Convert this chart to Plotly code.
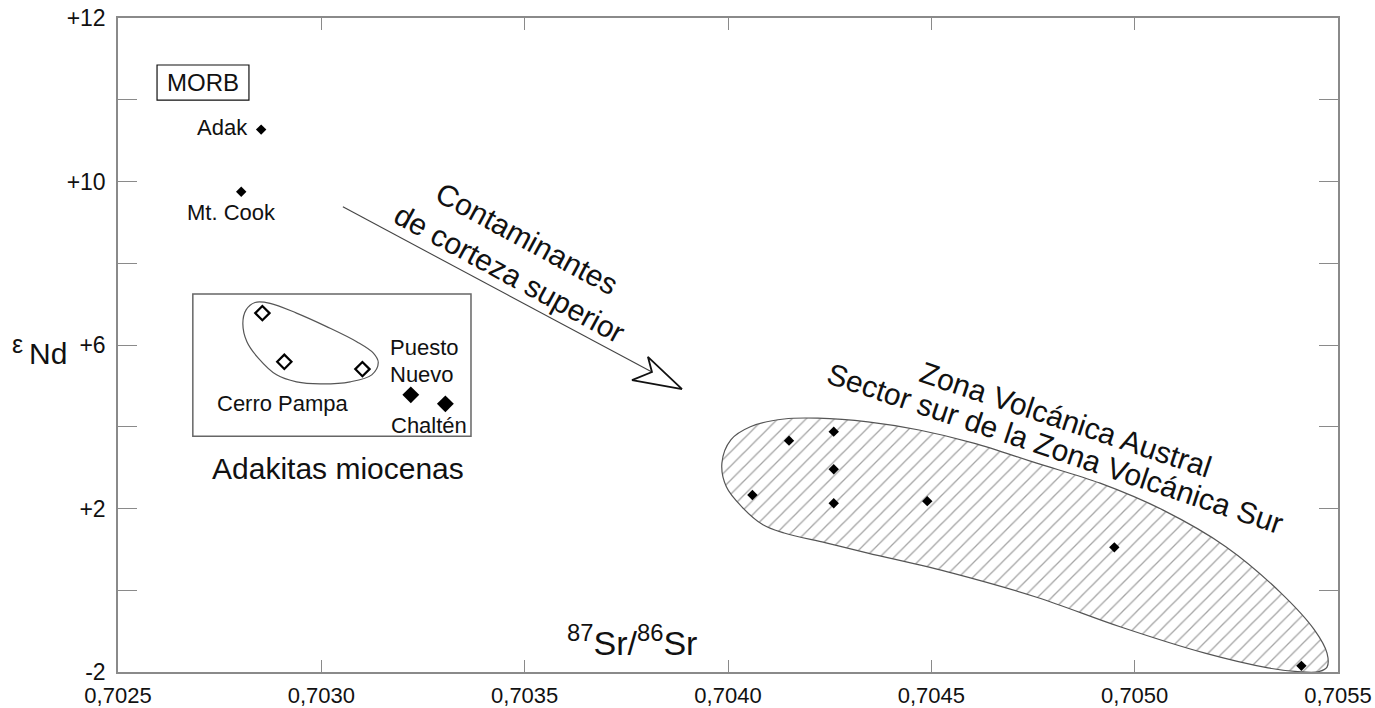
import plotly.graph_objects as go

# ---------------- data ----------------
x_ticks = [0.7025, 0.7030, 0.7035, 0.7040, 0.7045, 0.7050, 0.7055]
x_tick_text = ["0,7025", "0,7030", "0,7035", "0,7040", "0,7045", "0,7050", "0,7055"]
y_ticks = [-2, 2, 6, 10, 14]
y_tick_text = ["-2", "+2", "+6", "+10", "+12"]
y_minor_ticks = [0, 4, 8, 12]

morb_x = [0.702852, 0.702803]          # Adak, Mt. Cook
morb_y = [11.27, 9.75]

cerro_pampa_x = [0.702855, 0.702909, 0.703101]
cerro_pampa_y = [6.78, 5.59, 5.41]

pn_chalten_x = [0.703220, 0.703305]    # Puesto Nuevo, Chaltén
pn_chalten_y = [4.78, 4.56]

zva_x = [0.70415, 0.70426, 0.70426, 0.70406, 0.70426, 0.70449, 0.70495, 0.70541]
zva_y = [3.66, 3.88, 2.96, 2.33, 2.13, 2.18, 1.05, -1.85]

# outline of the ZVA field
zva_field_x = [0.703985, 0.704007, 0.704055, 0.704138, 0.704221, 0.704344, 0.704470,
               0.704604, 0.704759, 0.704915, 0.705070, 0.705225, 0.705360, 0.705442,
               0.705473, 0.705473, 0.705453, 0.705401, 0.705328, 0.705173, 0.704966,
               0.704759, 0.704552, 0.704344, 0.704241, 0.704138, 0.704086, 0.704034,
               0.703996, 0.703985]
zva_field_y = [3.11, 3.68, 4.00, 4.19, 4.21, 4.12, 3.92, 3.60, 3.11, 2.62, 1.96, 1.06,
               -0.07, -0.97, -1.54, -1.88, -1.99, -1.99, -1.90, -1.54, -0.90, -0.17,
               0.42, 0.91, 1.16, 1.40, 1.60, 2.04, 2.53, 3.11]

# outline of the Cerro Pampa group
cp_field_x = [0.702807, 0.702815, 0.702837, 0.702874, 0.702939, 0.703013, 0.703087,
              0.703128, 0.703140, 0.703124, 0.703071, 0.702997, 0.702939, 0.702890,
              0.702845, 0.702817, 0.702807]
cp_field_y = [6.53, 6.86, 7.04, 7.02, 6.78, 6.45, 6.08, 5.80, 5.57, 5.27, 5.10, 5.05,
              5.10, 5.27, 5.68, 6.08, 6.53]

# crustal-contamination arrow: shaft start, head tip, barbs and notch
arrow_shaft_x = [0.703053, 0.703813]
arrow_shaft_y = [9.38, 5.34]
arrow_head_x = [0.703887, 0.703803, 0.703813, 0.703764, 0.703887]
arrow_head_y = [4.92, 5.71, 5.34, 5.14, 4.92]

# inset box (Adakitas miocenas) and MORB box
inset_box = dict(x0=0.702684, x1=0.703368, y0=3.77, y1=7.25)
morb_box = dict(x0=0.702596, x1=0.702822, y0=11.99, y1=12.85)

FONT = "Liberation Sans, Arial, Helvetica, sans-serif"
AXIS_GREY = "#8a8a8a"

fig = go.Figure()

# hatched ZVA field
fig.add_trace(go.Scatter(
    x=zva_field_x, y=zva_field_y, mode="lines",
    line=dict(color="#555555", width=1.2, shape="spline", smoothing=1.0),
    fill="toself", fillcolor="white",
    fillpattern=dict(shape="/", fgcolor="#4a4a4a", bgcolor="white", size=10, solidity=0.13),
    hoverinfo="skip", showlegend=False))

# Cerro Pampa outline
fig.add_trace(go.Scatter(
    x=cp_field_x, y=cp_field_y, mode="lines",
    line=dict(color="#555555", width=1.2, shape="spline", smoothing=1.0),
    hoverinfo="skip", showlegend=False))

# arrow
fig.add_trace(go.Scatter(
    x=arrow_shaft_x, y=arrow_shaft_y, mode="lines",
    line=dict(color="#444444", width=1.1), hoverinfo="skip", showlegend=False))
fig.add_trace(go.Scatter(
    x=arrow_head_x, y=arrow_head_y, mode="lines",
    line=dict(color="#111111", width=1.8), fill="toself", fillcolor="white",
    hoverinfo="skip", showlegend=False))

# points
fig.add_trace(go.Scatter(
    x=morb_x, y=morb_y, mode="markers",
    marker=dict(symbol="diamond", size=8, color="black"), showlegend=False))
fig.add_trace(go.Scatter(
    x=cerro_pampa_x, y=cerro_pampa_y, mode="markers",
    marker=dict(symbol="diamond-open", size=11, color="black", line=dict(width=2.2)),
    showlegend=False))
fig.add_trace(go.Scatter(
    x=pn_chalten_x, y=pn_chalten_y, mode="markers",
    marker=dict(symbol="diamond", size=13, color="black"), showlegend=False))
fig.add_trace(go.Scatter(
    x=zva_x, y=zva_y, mode="markers",
    marker=dict(symbol="diamond", size=8, color="black"), showlegend=False))

# boxes
fig.add_shape(type="rect", xref="x", yref="y", line=dict(color="#666666", width=1.5),
              **inset_box)
fig.add_shape(type="rect", xref="x", yref="y", line=dict(color="#111111", width=1.2),
              **morb_box)


def label(text, x, y, size=22, xanchor="center", angle=0, yanchor="middle"):
    fig.add_annotation(text=text, x=x, y=y, xref="x", yref="y", showarrow=False,
                       xanchor=xanchor, yanchor=yanchor, textangle=angle,
                       font=dict(family=FONT, size=size, color="#111111"))


label("MORB", 0.702709, 12.43, size=24)
label("Adak", 0.702825, 11.31, xanchor="right")
label("Mt. Cook", 0.702780, 9.25)
label("Cerro Pampa", 0.702906, 4.58)
label("Puesto", 0.703164, 5.93, xanchor="left")
label("Nuevo", 0.703164, 5.29, xanchor="left")
label("Chaltén", 0.703166, 4.04, xanchor="left")
label("Adakitas miocenas", 0.703041, 2.99, size=30)
label("Contaminantes", 0.703505, 8.60, size=30, angle=28.5)
label("de corteza superior", 0.703462, 7.74, size=30, angle=28.5)
label("Zona Volcánica Austral", 0.704830, 4.17, size=30, angle=18.5)
label("Sector sur de la Zona Volcánica Sur", 0.704805, 3.48, size=30, angle=18.5)
label("<sup>87</sup>Sr/<sup>86</sup>Sr", 0.703765, -1.80, size=34, yanchor="bottom")

# y-axis title  (epsilon raised, then Nd)
fig.add_annotation(text="ε", x=-0.082, y=0.502, xref="paper", yref="paper",
                   showarrow=False, xanchor="center", yanchor="middle",
                   font=dict(family=FONT, size=25, color="#111111"))
fig.add_annotation(text="Nd", x=-0.075, y=0.487, xref="paper", yref="paper",
                   showarrow=False, xanchor="left", yanchor="middle",
                   font=dict(family=FONT, size=30, color="#111111"))

fig.update_xaxes(range=[0.7025, 0.7055], tickvals=x_ticks, ticktext=x_tick_text,
                 showline=True, linecolor=AXIS_GREY, linewidth=1.5, mirror="ticks",
                 ticks="inside", ticklen=12, tickwidth=1.3, tickcolor=AXIS_GREY,
                 showgrid=False, zeroline=False, ticklabelstandoff=3, automargin=False,
                 tickfont=dict(family=FONT, size=22, color="#111111"))
fig.update_yaxes(range=[-2, 14], tickvals=y_ticks, ticktext=y_tick_text,
                 showline=True, linecolor=AXIS_GREY, linewidth=1.5, mirror="ticks",
                 ticks="inside", ticklen=19, tickwidth=1.3, tickcolor=AXIS_GREY,
                 minor=dict(tickvals=y_minor_ticks, ticks="inside", ticklen=19,
                            tickwidth=1.3, tickcolor=AXIS_GREY, showgrid=False),
                 showgrid=False, zeroline=False, ticklabelstandoff=6, automargin=False,
                 tickfont=dict(family=FONT, size=23, color="#111111"))

fig.update_layout(width=1375, height=708, plot_bgcolor="white", paper_bgcolor="white",
                  margin=dict(l=118, r=37, t=18, b=36), showlegend=False)

# remove the browser's default page margin so the figure sits at the window's corner
fig.write_html("out.html", config={"displayModeBar": False},
               post_script="document.body.style.margin='0px';document.body.style.overflow='hidden';")
